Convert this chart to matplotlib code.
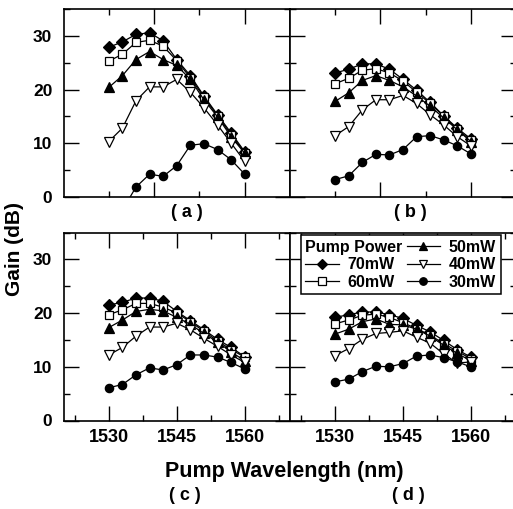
import numpy as np
import matplotlib
matplotlib.use("Agg")
import matplotlib.pyplot as plt
from matplotlib.lines import Line2D
from matplotlib.ticker import MultipleLocator, FixedLocator

plt.rcParams['font.family'] = ['Liberation Sans', 'DejaVu Sans']
plt.rcParams['font.weight'] = 'bold'

wavelength = [1530, 1533, 1536, 1539, 1542, 1545, 1548, 1551, 1554, 1557, 1560]
powers = ["70mW", "60mW", "50mW", "40mW", "30mW"]

# panel (a)
a_70 = [27.9, 28.9, 30.3, 30.6, 29.1, 25.6, 22.6, 18.8, 15.3, 11.9, 8.4]
a_60 = [25.3, 26.6, 28.8, 29.2, 28.1, 25.4, 22.2, 18.6, 15.1, 11.6, 8.2]
a_50 = [20.4, 22.6, 25.6, 27.1, 25.6, 24.5, 21.9, 18.1, 14.9, 11.2, 8.1]
a_40 = [10.3, 12.8, 17.9, 20.5, 20.5, 21.9, 19.5, 16.6, 13.4, 10.0, 6.6]
a_30 = [np.nan, -2.5, 1.8, 4.2, 3.8, 5.8, 9.6, 9.9, 8.8, 6.9, 4.2]
# panel (b)
b_70 = [23.1, 23.8, 24.8, 24.8, 23.8, 21.9, 19.9, 17.6, 15.1, 12.8, 10.8]
b_60 = [21.1, 22.1, 23.6, 23.9, 23.1, 21.6, 19.5, 17.4, 15.0, 12.6, 10.5]
b_50 = [17.8, 19.4, 21.7, 22.6, 21.7, 20.5, 18.8, 16.9, 14.7, 12.5, 10.3]
b_40 = [11.4, 13.1, 16.2, 18.1, 18.1, 18.9, 17.4, 15.3, 13.4, 11.2, 9.5]
b_30 = [3.2, 3.9, 6.4, 7.9, 7.8, 8.8, 11.2, 11.4, 10.6, 9.5, 8.0]
# panel (c)
c_70 = [21.5, 22.0, 22.8, 22.8, 22.2, 20.3, 18.6, 16.9, 15.1, 13.6, 11.9]
c_60 = [19.7, 20.6, 21.8, 21.8, 21.1, 20.0, 18.4, 16.6, 14.8, 13.2, 11.8]
c_50 = [17.3, 18.7, 20.3, 20.7, 20.4, 19.2, 17.9, 16.2, 14.6, 12.8, 11.1]
c_40 = [12.2, 13.6, 15.7, 17.4, 17.4, 18.1, 16.9, 15.3, 13.8, 12.2, 10.8]
c_30 = [6.1, 6.7, 8.5, 9.8, 9.4, 10.4, 12.2, 12.2, 11.8, 10.8, 9.6]
# panel (d)
d_70 = [19.2, 19.7, 20.2, 20.2, 19.7, 19.0, 17.7, 16.5, 14.9, 13.2, 11.8]
d_60 = [18.0, 18.7, 19.6, 19.8, 19.2, 18.2, 17.1, 15.9, 14.3, 12.9, 11.5]
d_50 = [16.1, 17.0, 18.4, 18.9, 17.9, 17.8, 17.0, 15.7, 14.0, 12.5, 11.1]
d_40 = [12.1, 13.4, 15.1, 16.2, 16.4, 16.7, 15.5, 14.4, 12.4, 10.7, 10.9]
d_30 = [7.2, 7.7, 9.1, 10.1, 10.0, 10.6, 12.0, 12.2, 11.7, 10.9, 10.0]

panels = {
    "a": [a_70, a_60, a_50, a_40, a_30],
    "b": [b_70, b_60, b_50, b_40, b_30],
    "c": [c_70, c_60, c_50, c_40, c_30],
    "d": [d_70, d_60, d_50, d_40, d_30],
}
panel_labels = ["( a )", "( b )", "( c )", "( d )"]
x_ticklabels = ["1530", "1545", "1560"]
y_ticks = [0, 10, 20, 30]

styles = [
    dict(marker="D", mfc="black", mec="black", ms=6.0),
    dict(marker="s", mfc="white", mec="black", ms=6.0),
    dict(marker="^", mfc="black", mec="black", ms=6.5),
    dict(marker="v", mfc="white", mec="black", ms=6.5),
    dict(marker="o", mfc="black", mec="black", ms=6.0),
]

W, H = 513, 509
fig = plt.figure(figsize=(W / 100, H / 100), dpi=100)

def px_axes(x0, x1, ytop, ybot):
    return fig.add_axes([x0 / W, 1 - ybot / H, (x1 - x0) / W, (ybot - ytop) / H])

axes = {
    "a": px_axes(63.5, 290, 9.2, 196.7),
    "b": px_axes(290, 516, 9.2, 196.7),
    "c": px_axes(63.5, 290, 232.5, 420.5),
    "d": px_axes(290, 516, 232.5, 420.5),
}

for key, ax in axes.items():
    series = panels[key]
    for vals, st in zip(series, styles):
        ax.plot(wavelength, vals, color="black", lw=0.9, mew=0.9,
                marker=st["marker"], mfc=st["mfc"], mec=st["mec"], ms=st["ms"])
    ax.set_xlim(1520, 1570)
    ax.set_ylim(0, 35)
    for s in ax.spines.values():
        s.set_linewidth(1.2)
    ax.yaxis.set_major_locator(FixedLocator(y_ticks))
    ax.yaxis.set_minor_locator(MultipleLocator(5))
    if key in ("a", "b"):
        ax.xaxis.set_major_locator(FixedLocator([1540, 1560]))
        ax.xaxis.set_minor_locator(FixedLocator([1530, 1550]))
        ax.set_xticklabels([])
    else:
        ax.xaxis.set_major_locator(FixedLocator([1530, 1545, 1560]))
        ax.xaxis.set_minor_locator(FixedLocator([1522.5, 1537.5, 1552.5, 1567.5]))
        ax.set_xticklabels(x_ticklabels)
    ax.tick_params(which="both", direction="in", top=True, right=True, width=1.0)
    ax.tick_params(which="major", length=10.5)
    ax.tick_params(which="minor", length=4)
    ax.tick_params(axis="x", which="major", labelsize=13, pad=6)
    ax.tick_params(axis="y", which="major", labelsize=12.5, pad=8)
    if key in ("a", "c"):
        ax.set_yticklabels([str(v) for v in y_ticks])
    else:
        ax.set_yticklabels([])
    for lab in ax.get_xticklabels() + ax.get_yticklabels():
        lab.set_fontweight("bold")

# legend in panel (d)
ax = axes["d"]
dummy = Line2D([], [], linestyle="none", marker="none")
handles = [dummy]
for st in styles:
    handles.append(Line2D([], [], color="black", lw=0.9, mew=0.9, marker=st["marker"],
                          mfc=st["mfc"], mec=st["mec"], ms=st["ms"] * 0.9))
labels = ["Pump Power"] + powers
leg = ax.legend(handles, labels, ncol=2, loc="upper left",
                bbox_to_anchor=(0.047, 0.987), borderaxespad=0,
                handlelength=2.1, handletextpad=0.55,
                columnspacing=0.25, labelspacing=0.15, borderpad=0.3,
                fancybox=False, edgecolor="black", framealpha=1,
                prop=dict(weight="bold", size=11.5))
leg.get_frame().set_linewidth(1.1)
try:
    first = leg._legend_handle_box.get_children()[0].get_children()[0]
    first.get_children()[0].width = 0
    first.sep = 0
except Exception:
    pass

fig.text(186.5 / W, 1 - 212.5 / H, panel_labels[0], ha="center", va="center", fontsize=13, fontweight="bold")
fig.text(410.5 / W, 1 - 212.5 / H, panel_labels[1], ha="center", va="center", fontsize=13, fontweight="bold")
fig.text(185 / W, 1 - 495 / H, panel_labels[2], ha="center", va="center", fontsize=13, fontweight="bold")
fig.text(408.5 / W, 1 - 495 / H, panel_labels[3], ha="center", va="center", fontsize=13, fontweight="bold")
fig.text(284.7 / W, 1 - 472 / H, "Pump Wavelength (nm)", ha="center", va="center", fontsize=15.5, fontweight="bold")
fig.text(15 / W, 1 - 249 / H, "Gain (dB)", ha="center", va="center", rotation=90, fontsize=15, fontweight="bold")

fig.savefig("out.png", dpi=100)
